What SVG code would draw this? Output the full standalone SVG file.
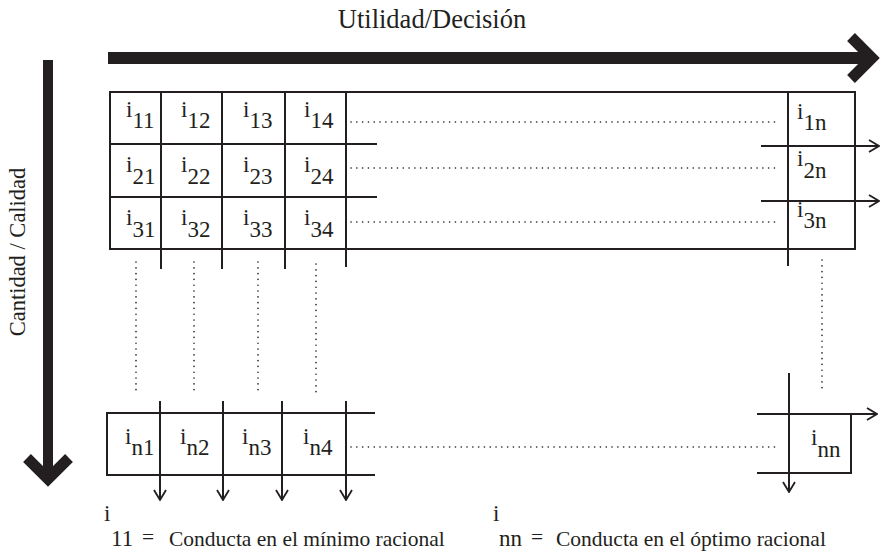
<svg xmlns="http://www.w3.org/2000/svg" width="880" height="556" viewBox="0 0 880 556">
  <defs>
    <style>
      text { font-family: "Liberation Serif", "Times New Roman", serif; fill: #231f20; }
      .title { font-size: 26.5px; }
      .side { font-size: 22.5px; }
      .lbl { font-size: 23px; }
      .legend { font-size: 21.5px; }
      .line { stroke: #231f20; stroke-width: 2; fill: none; }
      .dot { stroke: #231f20; stroke-width: 1.6; fill: none; stroke-dasharray: 0.1 5.7; stroke-linecap: round; }
      .thick { stroke: #231f20; fill: none; }
    </style>
    <marker id="open" viewBox="0 0 12 14" refX="11" refY="7" markerWidth="12" markerHeight="14" markerUnits="userSpaceOnUse" orient="auto">
      <path d="M1,1 L11,7 L1,13" fill="none" stroke="#231f20" stroke-width="1.8"/>
    </marker>
  </defs>

  <!-- axis titles -->
  <text class="title" x="432" y="28" text-anchor="middle">Utilidad/Decisión</text>
  <text class="side" x="0" y="0" text-anchor="middle" transform="translate(25,252) rotate(-90)">Cantidad / Calidad</text>

  <g id="connectors">
    <!-- thick axis arrows -->
    <line class="thick" x1="108" y1="58" x2="868" y2="58" stroke-width="12"/>
    <polyline class="thick" points="851,37 872,58 851,79" stroke-width="11" stroke-linejoin="miter"/>
    <line class="thick" x1="48" y1="60" x2="48" y2="476" stroke-width="10"/>
    <polyline class="thick" points="27,458 48,479 69,458" stroke-width="11" stroke-linejoin="miter"/>

    <!-- upper block frame -->
    <rect class="line" x="110" y="92" width="745" height="157"/>
    <line class="line" x1="110" y1="144" x2="377" y2="144"/>
    <line class="line" x1="110" y1="197" x2="377" y2="197"/>
    <line class="line" x1="161" y1="92" x2="161" y2="269"/>
    <line class="line" x1="222" y1="92" x2="222" y2="269"/>
    <line class="line" x1="285" y1="92" x2="285" y2="269"/>
    <line class="line" x1="346" y1="92" x2="346" y2="267"/>
    <line class="line" x1="788" y1="92" x2="788" y2="266"/>
    <line class="line" x1="761" y1="146" x2="879" y2="146" marker-end="url(#open)"/>
    <line class="line" x1="761" y1="201" x2="879" y2="201" marker-end="url(#open)"/>

    <!-- row continuation dots -->
    <line class="dot" x1="351" y1="122" x2="777" y2="122"/>
    <line class="dot" x1="351" y1="168" x2="777" y2="168"/>
    <line class="dot" x1="351" y1="222" x2="777" y2="222"/>
    <line class="dot" x1="351" y1="447" x2="775" y2="447"/>

    <!-- column continuation dots -->
    <line class="dot" x1="136" y1="262" x2="136" y2="395"/>
    <line class="dot" x1="194" y1="262" x2="194" y2="395"/>
    <line class="dot" x1="258" y1="262" x2="258" y2="395"/>
    <line class="dot" x1="316" y1="264" x2="316" y2="396"/>
    <line class="dot" x1="822" y1="260" x2="822" y2="393"/>

    <!-- lower block frame -->
    <polyline class="line" points="375,413 107,413 107,475 375,475"/>
    <line class="line" x1="160" y1="401" x2="160" y2="500" marker-end="url(#open)"/>
    <line class="line" x1="223" y1="401" x2="223" y2="500" marker-end="url(#open)"/>
    <line class="line" x1="282" y1="401" x2="282" y2="500" marker-end="url(#open)"/>
    <line class="line" x1="346" y1="401" x2="346" y2="500" marker-end="url(#open)"/>

    <!-- last cell -->
    <line class="line" x1="789" y1="373" x2="789" y2="492" marker-end="url(#open)"/>
    <line class="line" x1="757" y1="414" x2="877" y2="414" marker-end="url(#open)"/>
    <polyline class="line" points="851,414 851,473 757,473"/>
  </g>

  <!-- cells -->
  <g id="i11"><text class="lbl" x="126" y="117">i<tspan dy="11">11</tspan></text></g>
  <g id="i12"><text class="lbl" x="181" y="117">i<tspan dy="11">12</tspan></text></g>
  <g id="i13"><text class="lbl" x="243" y="117">i<tspan dy="11">13</tspan></text></g>
  <g id="i14"><text class="lbl" x="304" y="117">i<tspan dy="11">14</tspan></text></g>
  <g id="i1n"><text class="lbl" x="797" y="119">i<tspan dy="11">1n</tspan></text></g>

  <g id="i21"><text class="lbl" x="126" y="172">i<tspan dy="12">21</tspan></text></g>
  <g id="i22"><text class="lbl" x="181" y="172">i<tspan dy="12">22</tspan></text></g>
  <g id="i23"><text class="lbl" x="243" y="172">i<tspan dy="12">23</tspan></text></g>
  <g id="i24"><text class="lbl" x="304" y="172">i<tspan dy="12">24</tspan></text></g>
  <g id="i2n"><text class="lbl" x="797" y="166">i<tspan dy="12">2n</tspan></text></g>

  <g id="i31"><text class="lbl" x="126" y="225">i<tspan dy="12">31</tspan></text></g>
  <g id="i32"><text class="lbl" x="181" y="225">i<tspan dy="12">32</tspan></text></g>
  <g id="i33"><text class="lbl" x="243" y="225">i<tspan dy="12">33</tspan></text></g>
  <g id="i34"><text class="lbl" x="304" y="225">i<tspan dy="12">34</tspan></text></g>
  <g id="i3n"><text class="lbl" x="797" y="217">i<tspan dy="11">3n</tspan></text></g>

  <g id="in1"><text class="lbl" x="125" y="444">i<tspan dy="11">n1</tspan></text></g>
  <g id="in2"><text class="lbl" x="180" y="444">i<tspan dy="11">n2</tspan></text></g>
  <g id="in3"><text class="lbl" x="242" y="444">i<tspan dy="11">n3</tspan></text></g>
  <g id="in4"><text class="lbl" x="303" y="444">i<tspan dy="11">n4</tspan></text></g>
  <g id="inn"><text class="lbl" x="811" y="445">i<tspan dy="12">nn</tspan></text></g>

  <!-- legend -->
  <g id="legend-min">
    <text class="lbl" x="104" y="521">i</text>
    <text class="lbl" x="111" y="546">11</text>
    <text class="legend" x="142" y="544">=</text>
    <text class="legend" x="169" y="546">Conducta en el mínimo racional</text>
  </g>
  <g id="legend-opt">
    <text class="lbl" x="493" y="521">i</text>
    <text class="lbl" x="499" y="546">nn</text>
    <text class="legend" x="531" y="544">=</text>
    <text class="legend" x="556" y="546">Conducta en el óptimo racional</text>
  </g>
</svg>
